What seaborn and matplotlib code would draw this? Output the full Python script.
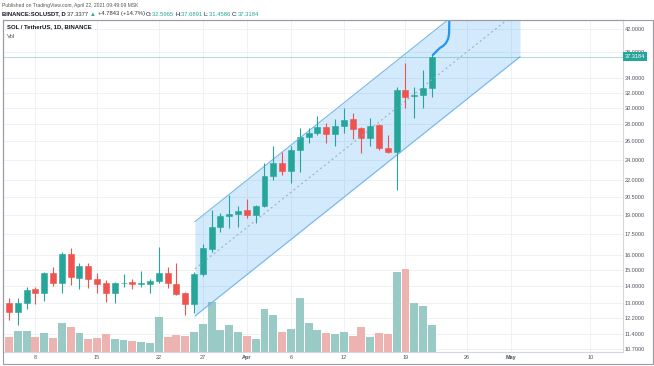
import numpy as np
import pandas as pd
import seaborn as sns
import matplotlib.pyplot as plt
import matplotlib.transforms as mtransforms
from matplotlib.patches import Rectangle
from matplotlib.ticker import NullLocator

# daily SOL/USDT candles, 2021-03-05 .. 2021-04-22
start_date = "2021-03-05"
opens = [13.02, 12.52, 13.02, 13.82, 13.59, 14.80, 14.18, 16.05, 14.48, 15.25,
         14.42, 14.18, 13.59, 14.18, 14.24, 14.14, 14.12, 14.30, 14.80, 14.12,
         13.59, 12.96, 14.73, 16.40, 18.01, 18.88, 19.04, 19.37, 18.96, 19.71,
         22.40, 23.68, 22.89, 25.04, 26.47, 26.93, 27.62, 26.81, 27.74, 28.59,
         27.51, 26.36, 27.86, 25.25, 24.82, 32.36, 31.54, 31.67, 32.5965]
highs = [13.30, 13.30, 13.94, 13.94, 14.86, 15.18, 16.19, 16.47, 15.44, 15.44,
         14.80, 14.36, 14.24, 14.73, 14.42, 14.92, 14.42, 16.54, 15.18, 15.44,
         13.64, 14.86, 16.75, 19.37, 19.13, 20.65, 19.71, 20.30, 19.79, 23.68,
         25.47, 24.82, 25.47, 27.51, 27.51, 28.95, 28.10, 28.59, 29.96, 29.30,
         27.60, 28.71, 27.98, 26.70, 32.78, 36.32, 32.78, 35.25, 37.6891]
lows = [12.10, 11.85, 12.68, 12.96, 13.13, 14.00, 13.59, 14.06, 13.82, 13.88,
        13.59, 13.07, 13.02, 13.94, 13.82, 13.94, 13.59, 14.18, 13.88, 13.47,
        12.36, 12.47, 14.60, 16.19, 17.63, 17.94, 18.01, 18.72, 18.33, 19.60,
        22.02, 22.50, 21.74, 22.79, 25.80, 26.70, 25.80, 25.47, 26.93, 26.24,
        24.72, 25.47, 25.04, 24.72, 21.10, 29.96, 28.71, 29.96, 31.4586]
closes = [12.52, 13.02, 13.76, 13.59, 14.80, 14.18, 16.05, 14.55, 15.25, 14.42,
          14.12, 13.59, 14.18, 14.20, 14.12, 14.18, 14.30, 14.80, 14.18, 13.53,
          12.96, 14.73, 16.47, 18.01, 18.88, 19.04, 19.29, 18.96, 19.71, 22.40,
          23.68, 22.89, 25.04, 26.47, 26.93, 27.62, 26.81, 27.74, 28.46, 27.39,
          26.36, 27.74, 25.25, 24.82, 32.36, 31.40, 31.67, 32.64, 37.3184]
volumes = [2.94, 4.26, 4.26, 3.06, 3.74, 2.74, 5.74, 5.06, 3.74, 2.54,
           2.86, 3.54, 2.54, 2.40, 2.20, 2.06, 1.74, 7.06, 2.94, 3.34,
           3.20, 4.06, 5.66, 10.00, 4.40, 5.34, 3.94, 3.20, 2.66, 8.66,
           7.40, 4.00, 4.66, 10.86, 5.86, 4.34, 3.86, 3.66, 4.00, 3.26,
           5.06, 3.06, 3.86, 3.60, 16.06, 16.54, 9.74, 9.20, 5.34]
last_price = 37.3184

price_ticks = [42, 38, 34, 32, 30, 28, 26, 24, 22, 20.5, 19, 17.5, 16, 15, 14, 13, 12.2, 11.4, 10.7]
price_labels = [f"{p:.4f}" for p in price_ticks]
time_ticks = ["2021-03-08", "2021-03-15", "2021-03-22", "2021-03-27", "2021-04-01", "2021-04-06",
              "2021-04-12", "2021-04-19", "2021-04-26", "2021-05-01", "2021-05-10"]
time_labels = ["8", "15", "22", "27", "Apr", "6", "12", "19", "26", "May", "10"]

# parallel channel drawing (day offsets from start_date, prices)
channel_x = [21.1, 58.0]
channel_lower = [12.31, 37.31]
channel_upper = [18.43, 55.84]
# blue hand-drawn path after the last candle
path_x = [48.1, 48.6, 48.9, 49.3, 49.6, 49.85, 49.95, 50.0]
path_y = [37.58, 38.30, 38.72, 39.10, 39.56, 40.30, 41.20, 46.0]

GREEN = "#26a69a"
RED = "#ef5350"

df = pd.DataFrame({"open": opens, "high": highs, "low": lows, "close": closes, "volume": volumes})
dates = pd.date_range(start_date, periods=len(df), freq="D")
df["day"] = np.arange(len(df))
df["dir"] = np.where(df["close"] >= df["open"], "up", "down")
tick_days = [(pd.Timestamp(t) - dates[0]).days for t in time_ticks]

sns.set_theme(style="white")
plt.rcParams['font.family'] = ['Liberation Sans', 'DejaVu Sans']

fig = plt.figure(figsize=(6.54, 3.66), dpi=100)
rect = [3 / 654, 14 / 366, 620 / 654, 332 / 366]
ylim = (10.56, 43.65)
xlim = (-0.68, 69.69)

# background axes: grid + time axis
ax = fig.add_axes(rect)
ax.set_yscale("log")
ax.set_ylim(*ylim)
ax.set_xlim(*xlim)
ax.set_yticks(price_ticks)
ax.yaxis.set_minor_locator(NullLocator())
ax.set_xticks(tick_days, labels=time_labels)
ax.tick_params(axis="y", left=False, labelleft=False, length=0)
ax.tick_params(axis="x", length=0, pad=2.5, labelsize=4, labelcolor="#50535e")
for lbl in ax.get_xticklabels():
    if lbl.get_text() in ("Apr", "May"):
        lbl.set_fontweight("bold")
ax.grid(True, color="#eceff4", linewidth=0.6)
for side, col in [("left", "#9a9ca4"), ("top", "#9a9ca4"), ("right", "#d4d7de"), ("bottom", "#d4d7de")]:
    ax.spines[side].set_color(col)
    ax.spines[side].set_linewidth(0.8)

# volume overlay
axv = ax.twinx()
sns.barplot(data=df, x="day", y="volume", hue="dir", palette={"up": "#92d2cc", "down": "#f7a9a7"},
            native_scale=True, dodge=False, width=0.9, errorbar=None, legend=False,
            linewidth=0, ax=axv)
axv.set_ylim(0, 66.4)
axv.set_yticks([])
axv.set_ylabel("")
for s in axv.spines.values():
    s.set_visible(False)

# price layer
axp = ax.twinx()
axp.set_yscale("log")
axp.set_ylim(*ylim)
axp.set_yticks(price_ticks, labels=price_labels)
axp.yaxis.set_minor_locator(NullLocator())
axp.tick_params(axis="y", length=0, pad=1.5, labelsize=4, labelcolor="#50535e")
for s in axp.spines.values():
    s.set_visible(False)

axp.fill_between(channel_x, channel_lower, channel_upper, color="#2196f3", alpha=0.2, linewidth=0)
axp.plot(channel_x, channel_upper, color="#74b6ee", linewidth=0.8)
axp.plot(channel_x, channel_lower, color="#74b6ee", linewidth=0.8)
channel_mid = np.sqrt(np.array(channel_lower) * np.array(channel_upper))
axp.plot(channel_x, channel_mid, color="#8aa9c8", linewidth=0.7, linestyle=(0, (2, 3)))

axp.axhline(last_price, color=GREEN, linewidth=0.6, alpha=0.45)

colors = np.where(df["dir"] == "up", GREEN, RED)
axp.vlines(df["day"], df["low"], df["high"], colors=colors, linewidth=0.8)
body_lo = np.minimum(df["open"], df["close"])
body_hi = np.maximum(df["open"], df["close"])
axp.bar(df["day"], body_hi - body_lo, bottom=body_lo, width=0.68, color=colors,
        edgecolor=colors, linewidth=0.4)

axp.plot(path_x, path_y, color="#2196f3", linewidth=1.6, solid_capstyle="round")

trans = mtransforms.blended_transform_factory(axp.transAxes, axp.transData)
axp.text(1.003, last_price, "37.3184", transform=trans, ha="left", va="center", fontsize=4,
         color="white", bbox=dict(boxstyle="square,pad=0.35", fc=GREEN, ec="none"))
ax.set_xlim(*xlim)

# outer frame
fig.add_artist(Rectangle((3 / 654, 2 / 366), 650 / 654, 344 / 366, transform=fig.transFigure,
                         fill=False, edgecolor="#9a9ca4", linewidth=0.8))

# header texts
fig.text(2 / 654, 1 - 5 / 366, "Published on TradingView.com, April 22, 2021 09:49:09 MSK",
         fontsize=3.6, color="#555555", va="center", ha="left")
pieces = [("BINANCE:SOLUSDT, D ", "#131722", "bold"), ("37.3377 ", "#333333", "normal"),
          ("▲ ", GREEN, "normal"), ("+4.7843 (+14.7%) ", "#333333", "normal"),
          ("O:", "#131722", "normal"), ("32.5965 ", GREEN, "normal"),
          ("H:", "#131722", "normal"), ("37.6891 ", GREEN, "normal"),
          ("L:", "#131722", "normal"), ("31.4586 ", GREEN, "normal"),
          ("C:", "#131722", "normal"), ("37.3184", GREEN, "normal")]
renderer = fig.canvas.get_renderer()
x = 2 / 654
for txt, col, w in pieces:
    t = fig.text(x, 1 - 14 / 366, txt, fontsize=4.2, color=col, fontweight=w, va="center", ha="left")
    x += t.get_window_extent(renderer=renderer).width / fig.bbox.width

fig.text(7 / 654, 1 - 27 / 366, "SOL / TetherUS, 1D, BINANCE", fontsize=4.3, color="#131722",
         fontweight="bold", va="center", ha="left")
fig.text(7 / 654, 1 - 36 / 366, "Vol", fontsize=4.3, color="#555555", va="center", ha="left")

fig.savefig("out.png", dpi=100)
